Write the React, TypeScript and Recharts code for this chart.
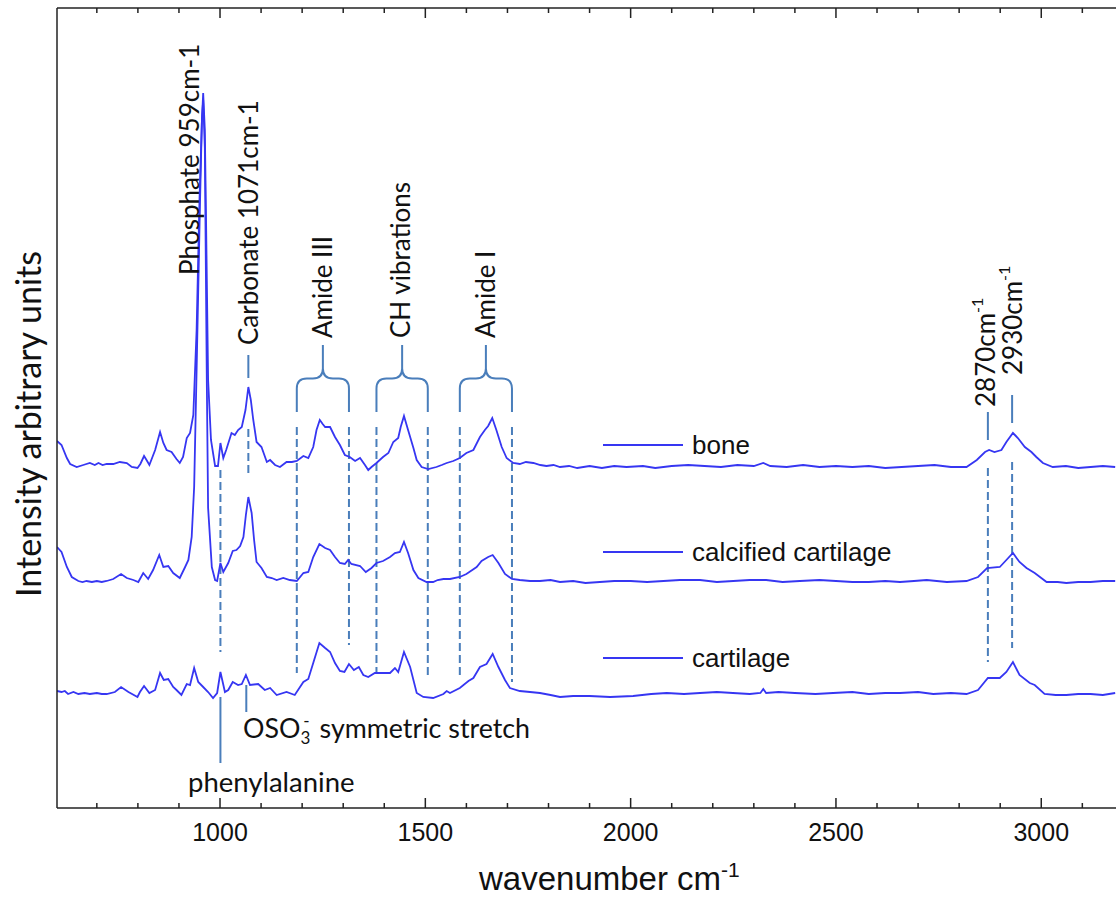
import React from 'react';
import { LineChart, Line, XAxis, YAxis, ReferenceLine, ReferenceArea, ReferenceDot, Legend, Label } from 'recharts';

// Raman spectra, offset vertically (intensity is arbitrary, baseline shifted per tissue)
// [wavenumber cm-1, intensity]
const bone: [number, number][] = [
  [603, 367], [614, 363], [627, 350], [635, 344], [651, 341], [667, 343], [683, 345], [695, 343], [704, 345],
  [714, 343], [724, 344], [740, 344], [756, 346], [773, 345], [785, 341], [799, 340], [806, 344], [815, 352],
  [821, 348], [828, 343], [842, 358], [854, 376], [862, 365], [870, 358], [882, 356], [894, 349], [902, 345],
  [910, 351], [919, 370], [927, 375], [935, 393], [943, 478], [950, 608], [956, 688], [959, 715], [963, 678],
  [966, 588], [971, 428], [978, 368], [988, 342], [995, 342], [1001, 365], [1008, 350], [1015, 358], [1028, 375],
  [1036, 373], [1044, 378], [1053, 381], [1062, 398], [1069, 421], [1075, 408], [1081, 388], [1089, 366],
  [1101, 361], [1114, 346], [1122, 348], [1134, 343], [1146, 341], [1162, 346], [1175, 346], [1187, 347],
  [1203, 352], [1215, 350], [1227, 361], [1235, 378], [1243, 388], [1250, 384], [1256, 381], [1268, 381],
  [1280, 371], [1292, 363], [1304, 353], [1316, 351], [1329, 347], [1341, 350], [1353, 343], [1361, 338],
  [1369, 341], [1381, 345], [1397, 351], [1410, 355], [1422, 366], [1434, 370], [1440, 381], [1448, 392],
  [1458, 378], [1471, 360], [1479, 348], [1491, 341], [1507, 339], [1527, 341], [1540, 343], [1552, 345],
  [1568, 347], [1584, 350], [1600, 355], [1617, 358], [1633, 371], [1645, 378], [1653, 382], [1663, 390],
  [1673, 378], [1686, 361], [1698, 350], [1714, 345], [1730, 344], [1745, 346], [1763, 345], [1780, 343],
  [1795, 342], [1812, 343], [1828, 341], [1850, 342], [1870, 340], [1900, 342], [1930, 340], [1960, 342],
  [1990, 341], [2030, 342], [2060, 340], [2100, 342], [2140, 343], [2180, 342], [2220, 341], [2260, 343],
  [2300, 342], [2323, 345], [2340, 342], [2380, 341], [2420, 343], [2460, 341], [2500, 342], [2540, 341],
  [2580, 342], [2620, 340], [2660, 341], [2700, 342], [2740, 343], [2780, 341], [2818, 341], [2843, 348],
  [2863, 356], [2873, 358], [2886, 356], [2903, 358], [2915, 366], [2931, 375], [2943, 370], [2960, 361],
  [2976, 356], [2988, 351], [3004, 345], [3028, 341], [3060, 342], [3090, 340], [3120, 341], [3150, 342],
  [3180, 341],
];

const calcifiedCartilage: [number, number][] = [
  [603, 261], [614, 256], [627, 241], [639, 231], [655, 227], [665, 226], [675, 227], [688, 226], [700, 227],
  [712, 226], [724, 227], [740, 229], [759, 234], [773, 230], [789, 228], [801, 226], [813, 235], [825, 229],
  [837, 238], [852, 253], [862, 241], [874, 242], [886, 235], [902, 230], [915, 241], [923, 248], [931, 271],
  [937, 321], [944, 458], [951, 600], [956, 690], [959, 708], [963, 660], [968, 420], [971, 300], [980, 241],
  [988, 228], [993, 227], [1001, 245], [1008, 236], [1020, 245], [1031, 257], [1040, 258], [1049, 262],
  [1057, 271], [1063, 293], [1069, 311], [1077, 295], [1083, 268], [1089, 246], [1101, 240], [1114, 231],
  [1126, 230], [1138, 228], [1154, 230], [1170, 228], [1187, 227], [1203, 235], [1215, 236], [1227, 251],
  [1242, 264], [1256, 260], [1268, 258], [1280, 251], [1292, 245], [1304, 244], [1312, 248], [1320, 244],
  [1341, 242], [1355, 236], [1369, 240], [1381, 245], [1397, 247], [1414, 251], [1426, 255], [1438, 256],
  [1448, 266], [1458, 255], [1471, 238], [1483, 230], [1503, 226], [1519, 226], [1530, 228], [1544, 229],
  [1560, 229], [1584, 231], [1600, 234], [1625, 241], [1637, 247], [1653, 251], [1664, 253], [1678, 245],
  [1694, 234], [1711, 229], [1730, 228], [1755, 227], [1779, 227], [1805, 228], [1828, 226], [1860, 227],
  [1890, 225], [1925, 226], [1960, 227], [2000, 227], [2040, 226], [2080, 227], [2120, 228], [2169, 228],
  [2210, 226], [2250, 227], [2290, 228], [2330, 228], [2370, 226], [2412, 227], [2460, 228], [2500, 227],
  [2540, 226], [2580, 226], [2620, 227], [2656, 226], [2690, 227], [2721, 228], [2770, 226], [2818, 227],
  [2846, 231], [2868, 240], [2899, 241], [2915, 248], [2931, 255], [2947, 246], [2964, 240], [2984, 235],
  [3013, 226], [3040, 226], [3061, 225], [3090, 226], [3120, 226], [3150, 227], [3180, 227],
];

const cartilage: [number, number][] = [
  [603, 117], [614, 116], [622, 117], [630, 114], [643, 116], [655, 114], [670, 115], [683, 114], [700, 115],
  [712, 114], [724, 114], [744, 116], [759, 121], [777, 116], [799, 111], [805, 116], [815, 122], [828, 115],
  [842, 118], [854, 135], [863, 128], [874, 129], [886, 121], [894, 118], [906, 113], [919, 124], [927, 123],
  [937, 140], [947, 126], [959, 121], [971, 116], [983, 110], [993, 115], [1001, 136], [1012, 116], [1020, 118],
  [1031, 126], [1044, 123], [1053, 124], [1063, 133], [1073, 123], [1093, 124], [1109, 118], [1122, 120],
  [1138, 113], [1162, 116], [1182, 113], [1203, 126], [1215, 129], [1227, 145], [1242, 165], [1256, 160],
  [1268, 156], [1280, 145], [1292, 137], [1303, 136], [1314, 144], [1326, 138], [1338, 141], [1349, 133],
  [1361, 131], [1377, 135], [1397, 135], [1414, 135], [1426, 140], [1434, 136], [1448, 156], [1463, 141],
  [1479, 115], [1495, 111], [1519, 110], [1544, 114], [1552, 117], [1560, 115], [1584, 120], [1605, 127],
  [1617, 130], [1633, 141], [1649, 144], [1664, 154], [1678, 141], [1694, 128], [1706, 120], [1730, 117],
  [1755, 116], [1779, 115], [1805, 113], [1828, 111], [1860, 112], [1900, 112], [1950, 111], [2006, 112],
  [2050, 114], [2088, 115], [2130, 114], [2169, 115], [2210, 116], [2249, 115], [2290, 114], [2316, 115],
  [2323, 119], [2330, 115], [2360, 116], [2400, 115], [2450, 114], [2493, 115], [2540, 116], [2580, 114],
  [2620, 115], [2656, 115], [2700, 116], [2737, 114], [2780, 115], [2818, 114], [2846, 118], [2870, 130],
  [2899, 130], [2915, 136], [2931, 146], [2947, 133], [2972, 125], [2984, 123], [3008, 114], [3035, 113],
  [3061, 113], [3090, 114], [3120, 114], [3150, 113], [3180, 115],
];

const xTicks = [700, 800, 900, 1000, 1100, 1200, 1300, 1400, 1500, 1600, 1700, 1800, 1900, 2000, 2100, 2200,
  2300, 2400, 2500, 2600, 2700, 2800, 2900, 3000, 3100];
const labelledTicks = [1000, 1500, 2000, 2500, 3000];

// dashed guide lines: [wavenumber, from, to]
const guides: [number, number, number][] = [
  [1001, 338, 156], [1069, 379, 331], [1187, 381, 135], [1314, 381, 163], [1381, 381, 135],
  [1506, 381, 130], [1584, 381, 130], [1711, 381, 126], [2870, 340, 146], [2929, 346, 160],
];
// short solid pointer lines
const pointers: [number, number, number][] = [
  [1001, 111, 45], [1064, 123, 96], [1069, 453, 430], [2870, 396, 368], [2929, 413, 385],
];
// band brackets [from, to]
const bands: [number, number][] = [[1187, 1314], [1381, 1506], [1584, 1711]];

const toPts = (arr: [number, number][]) => arr.map(([w, i]) => ({ w, i }));

const LINE = '#3636f2';
const GUIDE = '#4a7ebb';
const AXIS = '#222';
const CAL = 'Lato, "Open Sans", sans-serif';
const ARIAL = '"Liberation Sans", Arial, sans-serif';

const BottomTick = (props: any) => {
  const { x, y, payload } = props;
  const major = labelledTicks.includes(payload.value);
  return (
    <g>
      <line x1={x} x2={x} y1={y} y2={y - (major ? 10 : 5)} stroke={AXIS} strokeWidth={1.5} />
      {major && (
        <text x={x} y={y + 33} textAnchor="middle" fontFamily={ARIAL} fontSize={25} fill="#111">
          {payload.value}
        </text>
      )}
    </g>
  );
};

const TopTick = (props: any) => {
  const { x, y, payload } = props;
  const major = labelledTicks.includes(payload.value);
  return <line x1={x} x2={x} y1={y} y2={y + (major ? 10 : 5)} stroke={AXIS} strokeWidth={1.5} />;
};

const Brace = (props: any) => {
  const { x, y, width, height } = props;
  const m = height * 0.5;
  const r = 10;
  const cx = x + width / 2;
  const d = `M${x},${y + height} L${x},${y + m + r} Q${x},${y + m} ${x + r},${y + m} L${cx - r},${y + m} ` +
    `Q${cx},${y + m} ${cx},${y + m - r} L${cx},${y} M${cx},${y + m - r} Q${cx},${y + m} ${cx + r},${y + m} ` +
    `L${x + width - r},${y + m} Q${x + width},${y + m} ${x + width},${y + m + r} L${x + width},${y + height}`;
  return <path d={d} fill="none" stroke={GUIDE} strokeWidth={2} />;
};

// rotated annotation text, anchored at its lower end
const vNote = (content: React.ReactNode) => (p: any) => (
  <text x={p.cx} y={p.cy} transform={`rotate(-90 ${p.cx} ${p.cy})`} fontFamily={CAL} fontSize={26}
    fill="#111" dominantBaseline="central">
    {content}
  </text>
);

const hNote = (content: React.ReactNode, size = 27.5) => (p: any) => (
  <text x={p.cx} y={p.cy} fontFamily={CAL} fontSize={size} fill="#111">{content}</text>
);

const legendTops = [0, 107, 213];

const renderLegend = (props: any) => (
  <div style={{ position: 'relative' }}>
    {(props.payload || []).map((entry: any, idx: number) => (
      <div key={entry.value} style={{ position: 'absolute', left: 0, top: legendTops[idx], height: 30,
        display: 'flex', alignItems: 'center', whiteSpace: 'nowrap' }}>
        <span style={{ display: 'inline-block', width: 80, height: 2, background: LINE }} />
        <span style={{ marginLeft: 9, fontFamily: ARIAL, fontSize: 26, color: '#111' }}>{entry.value}</span>
      </div>
    ))}
  </div>
);

export default function App() {
  return (
    <div style={{ position: 'absolute', left: 0, top: 0, width: 1116, height: 897, overflow: 'hidden', background: '#fff' }}>
      <LineChart width={1116} height={897} margin={{ top: 0, right: 0, bottom: 0, left: 0 }}>
        <XAxis dataKey="w" type="number" domain={[603, 3182]} ticks={xTicks} allowDataOverflow height={89}
          tickSize={0} tickMargin={0} tickLine={false} interval={0} tick={BottomTick}
          axisLine={{ stroke: AXIS, strokeWidth: 1.5 }}>
          <Label content={(p: any) => (
            <text x={p.viewBox.x + 422} y={p.viewBox.y + 82} fontFamily={ARIAL} fontSize={33} fill="#111">
              wavenumber cm<tspan dy={-13} fontSize={21}>-1</tspan>
            </text>
          )} />
        </XAxis>
        <XAxis xAxisId="top" orientation="top" dataKey="w" type="number" domain={[603, 3182]} ticks={xTicks}
          allowDataOverflow height={8} tickSize={0} tickMargin={0} tickLine={false} interval={0} tick={TopTick}
          axisLine={{ stroke: AXIS, strokeWidth: 1.5 }} />
        <YAxis type="number" domain={[0, 800]} width={57} tick={false} tickLine={false}
          axisLine={{ stroke: AXIS, strokeWidth: 1.5 }}>
          <Label content={(p: any) => {
            const cx = p.viewBox.x + 27;
            const cy = p.viewBox.y + p.viewBox.height / 2 + 16;
            return (
              <text x={cx} y={cy} transform={`rotate(-90 ${cx} ${cy})`} textAnchor="middle" dominantBaseline="central"
                fontFamily={CAL} fontSize={34} fill="#111">
                Intensity arbitrary units
              </text>
            );
          }} />
        </YAxis>

        {guides.map(([w, a, b]) => (
          <ReferenceLine key={`g${w}`} segment={[{ x: w, y: a }, { x: w, y: b }]} stroke={GUIDE} strokeWidth={2}
            strokeDasharray="8 4" />
        ))}
        {pointers.map(([w, a, b]) => (
          <ReferenceLine key={`p${w}${a}`} segment={[{ x: w, y: a }, { x: w, y: b }]} stroke={GUIDE} strokeWidth={2} />
        ))}
        {bands.map(([a, b]) => (
          <ReferenceArea key={`b${a}`} x1={a} x2={b} y1={396} y2={463} shape={Brace} />
        ))}

        <ReferenceDot x={924} y={533} r={0} shape={vNote('Phosphate 959cm-1')} />
        <ReferenceDot x={1068} y={463} r={0} shape={vNote('Carbonate 1071cm-1')} />
        <ReferenceDot x={1248} y={470} r={0} shape={vNote('Amide III')} />
        <ReferenceDot x={1438} y={470} r={0} shape={vNote('CH vibrations')} />
        <ReferenceDot x={1645} y={470} r={0} shape={vNote('Amide I')} />
        <ReferenceDot x={2863} y={401} r={0}
          shape={vNote(<>2870cm<tspan dy={-9} fontSize={16}>-1</tspan></>)} />
        <ReferenceDot x={2928} y={433} r={0}
          shape={vNote(<>2930cm<tspan dy={-9} fontSize={16}>-1</tspan></>)} />
        <ReferenceDot x={1056} y={70} r={0}
          shape={hNote(<>OSO<tspan dy={6} fontSize={17}>3</tspan><tspan dx={-7} dy={-17} fontSize={17}>-</tspan>
            <tspan dx={3} dy={11}> symmetric stretch</tspan></>, 26.8)} />
        <ReferenceDot x={922} y={16} r={0} shape={hNote('phenylalanine')} />

        <Line data={toPts(bone)} dataKey="i" name="bone" type="linear" stroke={LINE} strokeWidth={1.8} dot={false}
          isAnimationActive={false} />
        <Line data={toPts(calcifiedCartilage)} dataKey="i" name="calcified cartilage" type="linear" stroke={LINE}
          strokeWidth={1.8} dot={false} isAnimationActive={false} />
        <Line data={toPts(cartilage)} dataKey="i" name="cartilage" type="linear" stroke={LINE} strokeWidth={1.8}
          dot={false} isAnimationActive={false} />

        <Legend layout="horizontal" verticalAlign="middle" align="center" content={renderLegend}
          wrapperStyle={{ left: 603, top: 430, width: 420, height: 30 }} />
      </LineChart>
    </div>
  );
}
